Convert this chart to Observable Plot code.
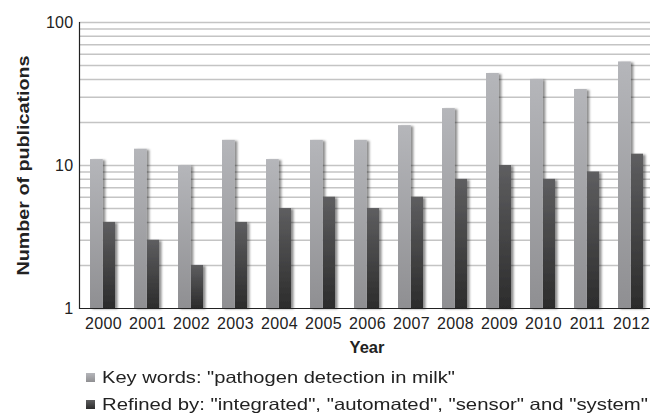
<!DOCTYPE html>
<html>
<head>
<meta charset="utf-8">
<script src="https://cdn.jsdelivr.net/npm/d3@7"></script>
<script src="https://cdn.jsdelivr.net/npm/@observablehq/plot@0.6"></script>
<style>
  html, body { margin: 0; padding: 0; background: #fff; }
  #wrap { position: relative; width: 650px; height: 416px; overflow: hidden; font-family: "Liberation Sans", Arial, sans-serif; color: #222; }
  .sw { position: absolute; left: 86px; width: 9px; height: 9px; }
  .lt { position: absolute; left: 102px; height: 20px; line-height: 20px; font-size: 16.5px; white-space: nowrap; transform-origin: 0 50%; }
</style>
</head>
<body>
<div id="wrap"></div>
<script>
const years = [2000, 2001, 2002, 2003, 2004, 2005, 2006, 2007, 2008, 2009, 2010, 2011, 2012];
const keyWords = [11, 13, 10, 15, 11, 15, 15, 19, 25, 44, 40, 34, 53];
const refined = [4, 3, 2, 4, 5, 6, 5, 6, 8, 10, 8, 9, 12];
const yTicks = [1, 10, 100];
const gridValues = [2, 3, 4, 5, 6, 7, 8, 9, 10, 20, 30, 40, 50, 60, 70, 80, 90, 100];
const seriesNames = ['Key words: "pathogen detection in milk"', 'Refined by: "integrated", "automated", "sensor" and "system"'];

const lightData = years.map((y, i) => ({year: String(y), v: keyWords[i]}));
const darkData = years.map((y, i) => ({year: String(y), v: refined[i]}));

const plot = Plot.plot({
  width: 650,
  height: 362,
  marginLeft: 79,
  marginRight: -4,
  marginTop: 22,
  marginBottom: 54,
  style: {fontFamily: '"Liberation Sans", Arial, sans-serif', fontSize: "16px", color: "#222", background: "transparent"},
  x: {type: "band", domain: years.map(String), padding: 0, label: null},
  y: {type: "log", domain: [1, 100], label: null},
  marks: [
    Plot.ruleY(gridValues, {stroke: "#c4c4c4", strokeWidth: 1.5}),
    Plot.barY(lightData, {x: "year", y1: () => 1, y2: "v", fill: "url(#gLight)", insetLeft: 9, insetRight: 22.2}),
    Plot.barY(darkData, {x: "year", y1: () => 1, y2: "v", fill: "url(#gDark)", insetLeft: 22, insetRight: 10}),
    Plot.ruleY([1], {stroke: "#222", strokeWidth: 1.2}),
    Plot.frame({anchor: "left", stroke: "#222", strokeWidth: 1.2}),
    Plot.axisY({ticks: yTicks, tickFormat: d => String(d), tickSize: 0, tickPadding: 6, label: null, fontSize: 16}),
    Plot.axisX({tickSize: 0, tickPadding: 9, label: null, fontSize: 16}),
    Plot.text(["Year"], {frameAnchor: "bottom", dy: 44, fontWeight: "bold", fontSize: 16.5, fill: "#222"}),
    Plot.text(["Number of publications"], {frameAnchor: "left", dx: -55.5, rotate: -90, textAnchor: "middle", fontWeight: "bold", fontSize: 16.5, fill: "#222"})
  ]
});

const defs = `
<defs>
  <linearGradient id="gLight" x1="0" y1="0" x2="0" y2="1">
    <stop offset="0" stop-color="#b5b6ba"/>
    <stop offset="1" stop-color="#8f8f92"/>
  </linearGradient>
  <linearGradient id="gDark" x1="0" y1="0" x2="0" y2="1">
    <stop offset="0" stop-color="#5e5e60"/>
    <stop offset="1" stop-color="#2c2c2c"/>
  </linearGradient>
  <filter id="shadow" x="-20%" y="-5%" width="160%" height="110%">
    <feDropShadow dx="2.5" dy="1" stdDeviation="1.3" flood-color="#000" flood-opacity="0.45"/>
  </filter>
</defs>`;
plot.insertAdjacentHTML("afterbegin", defs);
d3.select(plot).selectAll('g[aria-label="bar"]').attr("filter", "url(#shadow)");

const wrap = document.getElementById("wrap");
wrap.appendChild(plot);

// stretch the y title to the reference's length (wide type)
d3.select(plot).selectAll('g[aria-label="text"] text')
  .filter(function() { return this.textContent === "Number of publications"; })
  .attr("textLength", 220).attr("lengthAdjust", "spacingAndGlyphs");
d3.select(plot).selectAll('g[aria-label="x-axis tick label"] text, g[aria-label="y-axis tick label"] text')
  .attr("letter-spacing", "0.3px");

const legColors = ["linear-gradient(#b5b6ba, #8f8f92)", "linear-gradient(#5e5e60, #2c2c2c)"];
const legTops = [367, 394];
const legWidths = [353, 546];
seriesNames.forEach((name, i) => {
  const sw = document.createElement("span");
  sw.className = "sw";
  sw.style.background = legColors[i];
  sw.style.top = (legTops[i] + 6) + "px";
  wrap.appendChild(sw);
  const t = document.createElement("span");
  t.className = "lt";
  t.style.top = legTops[i] + "px";
  t.textContent = name;
  wrap.appendChild(t);
  const w = t.getBoundingClientRect().width;
  t.style.transform = `scaleX(${legWidths[i] / w})`;
});
</script>
</body>
</html>
